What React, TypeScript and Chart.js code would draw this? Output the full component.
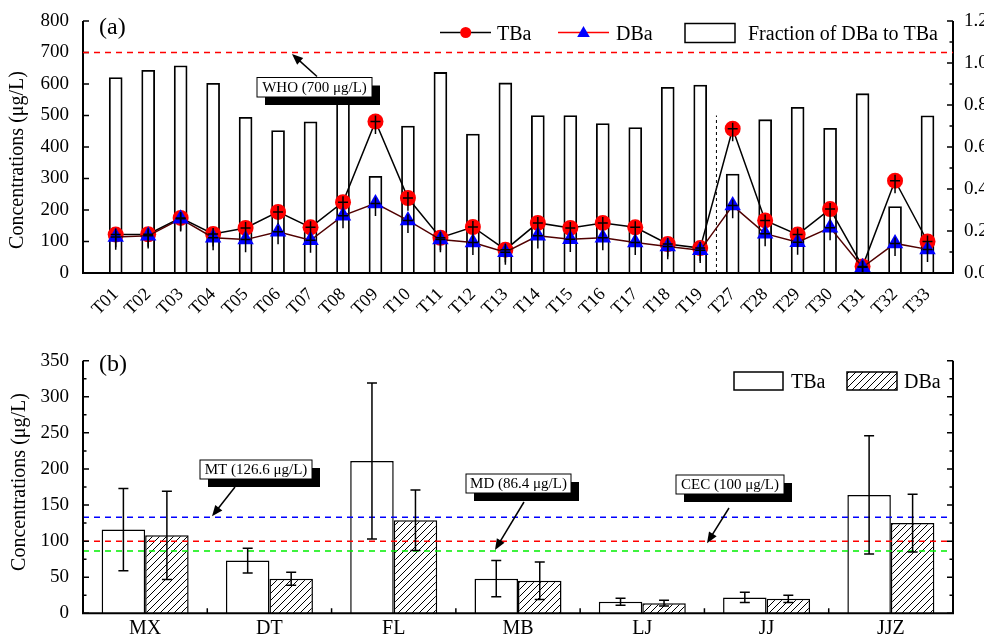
import React, { useEffect, useRef } from 'react';
import { Chart, registerables } from 'chart.js';
Chart.register(...registerables);

const FONT = "'Liberation Serif', 'Times New Roman', Times, serif";

// ---------- Panel (a) data ----------
const sites = ['T01','T02','T03','T04','T05','T06','T07','T08','T09','T10','T11','T12','T13','T14','T15','T16','T17','T18','T19','T27','T28','T29','T30','T31','T32','T33'];
const tbaConc = [122,123,175,124,143,194,145,225,481,238,112,146,74,159,143,159,145,92,79,458,167,122,203,21,293,100];
const dbaConc = [114,118,172,112,106,131,104,182,221,167,106,97,66,118,107,112,97,84,72,214,125,98,144,18,94,75];
const fraction = [0.931,0.965,0.987,0.903,0.741,0.678,0.720,0.810,0.460,0.700,0.955,0.662,0.905,0.750,0.750,0.712,0.693,0.884,0.895,0.471,0.730,0.789,0.689,0.854,0.316,0.749];
const crossLowErr = 40;
const whoLimit = 700;
const separatorTop = 500;

// ---------- Panel (b) data ----------
const regions = ['MX','DT','FL','MB','LJ','JJ','JJZ'];
const tbaMean = [116,73,211,48,16,22,164];
const tbaSD = [57,17,108,25,5,7,82];
const dbaMean = [108,48,129,45,14,20,125];
const dbaSD = [61,9,42,26,4,5,40];
const mtLine = 133;
const cecLine = 100;
const mdLine = 86.4;

function arrow(ctx: CanvasRenderingContext2D, x0: number, y0: number, x1: number, y1: number) {
  const head = 11, w = 4.5;
  const a = Math.atan2(y1 - y0, x1 - x0);
  ctx.save();
  ctx.strokeStyle = '#000'; ctx.fillStyle = '#000'; ctx.lineWidth = 1.5; ctx.setLineDash([]);
  ctx.beginPath(); ctx.moveTo(x0, y0); ctx.lineTo(x1 - head * 0.7 * Math.cos(a), y1 - head * 0.7 * Math.sin(a)); ctx.stroke();
  ctx.beginPath();
  ctx.moveTo(x1, y1);
  ctx.lineTo(x1 - head * Math.cos(a) + w * Math.sin(a), y1 - head * Math.sin(a) - w * Math.cos(a));
  ctx.lineTo(x1 - head * Math.cos(a) - w * Math.sin(a), y1 - head * Math.sin(a) + w * Math.cos(a));
  ctx.closePath(); ctx.fill();
  ctx.restore();
}

function labelBox(ctx: CanvasRenderingContext2D, x: number, y: number, w: number, h: number, text: string) {
  const off = 8;
  ctx.save();
  ctx.setLineDash([]);
  ctx.fillStyle = '#000'; ctx.fillRect(x + off, y + off, w, h);
  ctx.fillStyle = '#fff'; ctx.fillRect(x, y, w, h);
  ctx.strokeStyle = '#000'; ctx.lineWidth = 1; ctx.strokeRect(x, y, w, h);
  ctx.fillStyle = '#000'; ctx.font = `15px ${FONT}`; ctx.textAlign = 'center'; ctx.textBaseline = 'middle';
  ctx.fillText(text, x + w / 2, y + h / 2 + 1);
  ctx.restore();
}

function hline(ctx: CanvasRenderingContext2D, x0: number, x1: number, y: number, color: string) {
  ctx.save();
  ctx.strokeStyle = color; ctx.lineWidth = 1.5; ctx.setLineDash([6, 5]);
  ctx.beginPath(); ctx.moveTo(x0, y); ctx.lineTo(x1, y); ctx.stroke();
  ctx.restore();
}

function yTitle(ctx: CanvasRenderingContext2D, x: number, y: number, text: string) {
  ctx.save();
  ctx.translate(x, y); ctx.rotate(-Math.PI / 2);
  ctx.fillStyle = '#000'; ctx.font = `20px ${FONT}`; ctx.textAlign = 'center'; ctx.textBaseline = 'middle';
  ctx.fillText(text, 0, 0);
  ctx.restore();
}

function yTicks(ctx: CanvasRenderingContext2D, scale: any, xPos: number, dir: number, minor: boolean) {
  const vals = scale.ticks.map((t: any) => t.value);
  ctx.beginPath();
  vals.forEach((v: number, i: number) => {
    const py = scale.getPixelForValue(v);
    ctx.moveTo(xPos, py); ctx.lineTo(xPos + dir * 6, py);
    if (minor && i < vals.length - 1) {
      const pm = scale.getPixelForValue((v + vals[i + 1]) / 2);
      ctx.moveTo(xPos, pm); ctx.lineTo(xPos + dir * 3.5, pm);
    }
  });
  ctx.stroke();
}

function makeHatch(): CanvasPattern | string {
  const s = 7;
  const c = document.createElement('canvas');
  c.width = s; c.height = s;
  const g = c.getContext('2d');
  if (!g) return '#fff';
  g.fillStyle = '#fff'; g.fillRect(0, 0, s, s);
  g.strokeStyle = '#000'; g.lineWidth = 1;
  g.beginPath();
  g.moveTo(0, s); g.lineTo(s, 0);
  g.moveTo(-1, 1); g.lineTo(1, -1);
  g.moveTo(s - 1, s + 1); g.lineTo(s + 1, s - 1);
  g.stroke();
  return g.createPattern(c, 'repeat') || '#fff';
}

const topPlugin = {
  id: 'topDecor',
  beforeDatasetsDraw(chart: any) {
    const { ctx, scales: { x, y } } = chart;
    ctx.save();
    ctx.strokeStyle = '#000'; ctx.lineWidth = 1; ctx.setLineDash([3, 3]);
    const px = x.getPixelForValue(18.5);
    ctx.beginPath(); ctx.moveTo(px, y.getPixelForValue(0)); ctx.lineTo(px, y.getPixelForValue(separatorTop)); ctx.stroke();
    ctx.restore();
  },
  afterDatasetsDraw(chart: any) {
    const { ctx, scales: { x, y } } = chart;
    ctx.save();
    ctx.strokeStyle = '#000'; ctx.lineWidth = 1.5;
    [tbaConc, dbaConc].forEach((arr) => arr.forEach((v, i) => {
      const px = x.getPixelForValue(i), py = y.getPixelForValue(v);
      const low = y.getPixelForValue(Math.max(0, v - crossLowErr));
      ctx.beginPath();
      ctx.moveTo(px - 5, py); ctx.lineTo(px + 5, py);
      ctx.moveTo(px, py - 6); ctx.lineTo(px, low);
      ctx.stroke();
    }));
    ctx.restore();
  },
  afterDraw(chart: any) {
    const { ctx, chartArea: ca, scales: { y, y1 } } = chart;
    ctx.save();
    ctx.strokeStyle = '#000'; ctx.lineWidth = 2;
    ctx.beginPath();
    ctx.moveTo(ca.left, ca.top); ctx.lineTo(ca.left, ca.bottom); ctx.lineTo(ca.right, ca.bottom); ctx.lineTo(ca.right, ca.top);
    ctx.stroke();
    ctx.lineWidth = 1.5;
    yTicks(ctx, y, ca.left, 1, false);
    yTicks(ctx, y1, ca.right, -1, true);
    const wy = y.getPixelForValue(whoLimit);
    hline(ctx, ca.left, ca.right, wy, '#ff0000');
    labelBox(ctx, 257, 77.5, 115, 19.5, 'WHO (700 \u03bcg/L)');
    arrow(ctx, 317, 76.5, 292, wy + 1.5);
    ctx.lineWidth = 1.5; ctx.strokeStyle = '#000';
    ctx.beginPath(); ctx.moveTo(440, 32.5); ctx.lineTo(491, 32.5); ctx.stroke();
    ctx.fillStyle = '#ff0000'; ctx.beginPath(); ctx.arc(465.7, 32.5, 5.5, 0, Math.PI * 2); ctx.fill();
    ctx.strokeStyle = '#ff0000';
    ctx.beginPath(); ctx.moveTo(558, 32.5); ctx.lineTo(609, 32.5); ctx.stroke();
    ctx.fillStyle = '#0000ff';
    ctx.beginPath(); ctx.moveTo(583.5, 26); ctx.lineTo(589.8, 37); ctx.lineTo(577.2, 37); ctx.closePath(); ctx.fill();
    ctx.fillStyle = '#fff'; ctx.strokeStyle = '#000'; ctx.lineWidth = 1.5;
    ctx.fillRect(685, 23.5, 50, 19); ctx.strokeRect(685, 23.5, 50, 19);
    ctx.fillStyle = '#000'; ctx.font = `20px ${FONT}`; ctx.textAlign = 'left'; ctx.textBaseline = 'alphabetic';
    ctx.fillText('TBa', 497, 39.5);
    ctx.fillText('DBa', 616, 39.5);
    ctx.fillText('Fraction of DBa to TBa', 748, 39.5);
    ctx.font = `24px ${FONT}`; ctx.textBaseline = 'middle';
    ctx.fillText('(a)', 99, 28);
    yTitle(ctx, 18, 160, 'Concentrations (\u03bcg/L)');
    ctx.restore();
  },
};

const botPlugin = {
  id: 'botDecor',
  afterDatasetsDraw(chart: any) {
    const { ctx, chartArea: ca, scales: { y } } = chart;
    ctx.save();
    hline(ctx, ca.left, ca.right, y.getPixelForValue(mtLine), '#0000ff');
    hline(ctx, ca.left, ca.right, y.getPixelForValue(cecLine), '#ff0000');
    hline(ctx, ca.left, ca.right, y.getPixelForValue(mdLine), '#00ee00');
    ctx.strokeStyle = '#000'; ctx.lineWidth = 1.5; ctx.setLineDash([]);
    [[tbaMean, tbaSD], [dbaMean, dbaSD]].forEach(([m, sd], d) => {
      const meta = chart.getDatasetMeta(d);
      m.forEach((v: number, i: number) => {
        const px = meta.data[i].x;
        const hi = y.getPixelForValue(v + sd[i]);
        const lo = y.getPixelForValue(v - sd[i]);
        ctx.beginPath();
        ctx.moveTo(px, hi); ctx.lineTo(px, lo);
        ctx.moveTo(px - 5, hi); ctx.lineTo(px + 5, hi);
        ctx.moveTo(px - 5, lo); ctx.lineTo(px + 5, lo);
        ctx.stroke();
      });
    });
    ctx.restore();
  },
  afterDraw(chart: any) {
    const { ctx, chartArea: ca, scales: { x, y } } = chart;
    ctx.save();
    ctx.strokeStyle = '#000'; ctx.lineWidth = 2;
    ctx.beginPath();
    ctx.moveTo(ca.left, ca.top); ctx.lineTo(ca.left, ca.bottom); ctx.lineTo(ca.right, ca.bottom); ctx.lineTo(ca.right, ca.top);
    ctx.stroke();
    ctx.lineWidth = 1.5;
    yTicks(ctx, y, ca.left, 1, true);
    yTicks(ctx, y, ca.right, -1, true);
    ctx.beginPath();
    for (let i = 0; i < regions.length - 1; i++) {
      const bx = (x.getPixelForValue(i) + x.getPixelForValue(i + 1)) / 2;
      ctx.moveTo(bx, ca.bottom); ctx.lineTo(bx, ca.bottom - 5);
    }
    ctx.stroke();
    labelBox(ctx, 200, 135, 112, 19, 'MT (126.6 \u03bcg/L)');
    arrow(ctx, 235, 162, 212, y.getPixelForValue(mtLine) - 1);
    labelBox(ctx, 466, 149, 105, 19, 'MD (86.4 \u03bcg/L)');
    arrow(ctx, 524, 177, 495, y.getPixelForValue(mdLine) - 1);
    labelBox(ctx, 676, 150, 108, 19, 'CEC (100 \u03bcg/L)');
    arrow(ctx, 729, 183, 707, y.getPixelForValue(cecLine) + 2);
    ctx.lineWidth = 1.5; ctx.strokeStyle = '#000';
    ctx.fillStyle = '#fff'; ctx.fillRect(734, 47, 49, 18); ctx.strokeRect(734, 47, 49, 18);
    ctx.fillStyle = chart.data.datasets[1].backgroundColor; ctx.fillRect(847, 47, 50, 18); ctx.strokeRect(847, 47, 50, 18);
    ctx.fillStyle = '#000'; ctx.font = `20px ${FONT}`; ctx.textAlign = 'left'; ctx.textBaseline = 'alphabetic';
    ctx.fillText('TBa', 791, 63);
    ctx.fillText('DBa', 904, 63);
    ctx.font = `24px ${FONT}`; ctx.textBaseline = 'middle';
    ctx.fillText('(b)', 99, 40);
    yTitle(ctx, 20, 157, 'Concentrations (\u03bcg/L)');
    ctx.restore();
  },
};

const tickFont = { family: FONT, size: 19 };

export default function App() {
  const topRef = useRef<HTMLCanvasElement>(null);
  const botRef = useRef<HTMLCanvasElement>(null);

  useEffect(() => {
    if (!topRef.current || !botRef.current) return;
    const top = new Chart(topRef.current, {
      type: 'bar',
      data: {
        datasets: [
          {
            type: 'line', label: 'DBa', data: dbaConc.map((v, i) => ({ x: i, y: v })),
            borderColor: '#500000', borderWidth: 1.5, pointStyle: 'triangle', pointRadius: 9.5,
            pointBackgroundColor: '#0000ff', pointBorderWidth: 0, yAxisID: 'y', order: 0,
          } as any,
          {
            type: 'line', label: 'TBa', data: tbaConc.map((v, i) => ({ x: i, y: v })),
            borderColor: '#000', borderWidth: 1.5, pointStyle: 'circle', pointRadius: 8,
            pointBackgroundColor: '#ff0000', pointBorderWidth: 0, yAxisID: 'y', order: 1,
          } as any,
          {
            type: 'bar', label: 'Fraction of DBa to TBa', data: fraction.map((v, i) => ({ x: i, y: v })),
            backgroundColor: '#fff', borderColor: '#000', borderWidth: 1.8, barThickness: 13,
            yAxisID: 'y1', order: 2,
          } as any,
        ],
      },
      options: {
        animation: false, responsive: false,
        layout: { padding: { top: 21, left: 0, right: 0, bottom: 0 } },
        plugins: { legend: { display: false }, tooltip: { enabled: false } },
        scales: {
          x: {
            type: 'linear', min: -1.007, max: 25.785, offset: false,
            grid: { display: false, offset: false }, border: { display: false },
            afterBuildTicks: (s: any) => { s.ticks = sites.map((_, i) => ({ value: i })); },
            ticks: {
              autoSkip: false, minRotation: 45, maxRotation: 45, padding: 3,
              callback: (v: any) => sites[Math.round(Number(v))] ?? '',
              font: { family: FONT, size: 18 }, color: '#000',
            },
            afterFit: (s: any) => { s.height = 52; },
          },
          y: {
            position: 'left', min: 0, max: 800,
            grid: { display: false }, border: { display: false },
            ticks: { stepSize: 100, font: tickFont, color: '#000', padding: 6 },
            afterFit: (s: any) => { s.width = 83; },
          },
          y1: {
            position: 'right', min: 0, max: 1.2,
            grid: { display: false }, border: { display: false },
            ticks: { stepSize: 0.2, font: tickFont, color: '#000', padding: 3, callback: (v: any) => Number(v).toFixed(1) },
            afterFit: (s: any) => { s.width = 31; },
          },
        },
      } as any,
      plugins: [topPlugin],
    });

    const hatch = makeHatch();
    const bot = new Chart(botRef.current, {
      type: 'bar',
      data: {
        labels: regions,
        datasets: [
          { label: 'TBa', data: tbaMean, backgroundColor: '#fff', borderColor: '#000', borderWidth: 1.5, categoryPercentage: 0.7, barPercentage: 1 } as any,
          { label: 'DBa', data: dbaMean, backgroundColor: hatch, borderColor: '#000', borderWidth: 1.5, categoryPercentage: 0.7, barPercentage: 1 } as any,
        ],
      },
      options: {
        animation: false, responsive: false,
        layout: { padding: { top: 35.7, left: 0, right: 31, bottom: 0 } },
        plugins: { legend: { display: false }, tooltip: { enabled: false } },
        scales: {
          x: {
            offset: true, grid: { display: false }, border: { display: false },
            ticks: { font: { family: FONT, size: 20 }, color: '#000', padding: -5, maxRotation: 0 },
            afterFit: (s: any) => { s.height = 22.7; },
          },
          y: {
            min: 0, max: 350, grid: { display: false }, border: { display: false },
            ticks: { stepSize: 50, font: tickFont, color: '#000', padding: 6 },
            afterFit: (s: any) => { s.width = 83; },
          },
        },
      } as any,
      plugins: [botPlugin],
    });

    return () => { top.destroy(); bot.destroy(); };
  }, []);

  return (
    <div style={{ position: 'absolute', left: 0, top: 0, width: 984, height: 636, background: '#fff', overflow: 'hidden' }}>
      <canvas ref={topRef} width={984} height={325} style={{ position: 'absolute', left: 0, top: 0, width: 984, height: 325 }} />
      <canvas ref={botRef} width={984} height={311} style={{ position: 'absolute', left: 0, top: 325, width: 984, height: 311 }} />
    </div>
  );
}
